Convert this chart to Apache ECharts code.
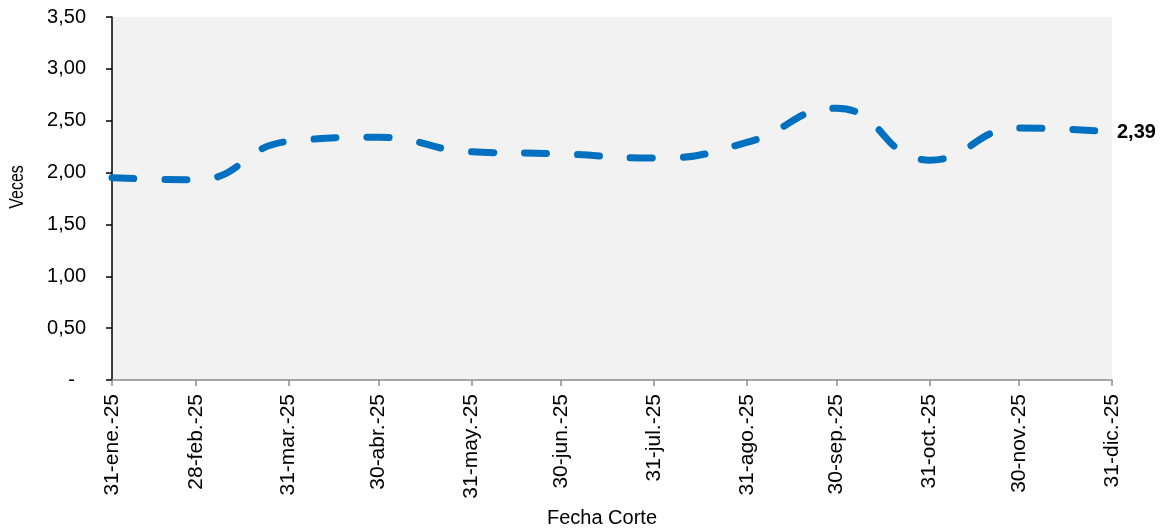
<!DOCTYPE html>
<html>
<head>
<meta charset="utf-8">
<script src="https://cdn.jsdelivr.net/npm/echarts@6/dist/echarts.min.js"></script>
<style>
  html, body { margin: 0; padding: 0; background: #ffffff; }
  #chart { width: 1162px; height: 531px; }
</style>
</head>
<body>
<div id="chart"></div>
<script>
// Cut-off dates (month ends of 2025) and their axis labels
const cutDates = [
  [2025, 0, 31], [2025, 1, 28], [2025, 2, 31], [2025, 3, 30],
  [2025, 4, 31], [2025, 5, 30], [2025, 6, 31], [2025, 7, 31],
  [2025, 8, 30], [2025, 9, 31], [2025, 10, 30], [2025, 11, 31]
];
const tickLabels = [
  '31-ene.-25', '28-feb.-25', '31-mar.-25', '30-abr.-25',
  '31-may.-25', '30-jun.-25', '31-jul.-25', '31-ago.-25',
  '30-sep.-25', '31-oct.-25', '30-nov.-25', '31-dic.-25'
];
// Ratio in "veces" at each cut-off date
const veces = [1.95, 1.93, 2.30, 2.34, 2.20, 2.18, 2.14, 2.29, 2.62, 2.12, 2.43, 2.39];

const FONT = 'Liberation Sans, Arial, sans-serif';
const DAY = 86400000;
// Position along the x axis: days elapsed since the first cut-off date
const days = cutDates.map(d =>
  Math.round((Date.UTC(d[0], d[1], d[2]) - Date.UTC(cutDates[0][0], cutDates[0][1], cutDates[0][2])) / DAY));
const fmtNum = v => v.toFixed(2).replace('.', ',');

const seriesData = days.map((t, i) => [t, veces[i]]);

const chart = echarts.init(document.getElementById('chart'), null, { renderer: 'canvas' });
chart.setOption({
  animation: false,
  backgroundColor: '#ffffff',
  grid: {
    left: 112, right: 50, top: 17, bottom: 151,
    show: true, backgroundColor: '#F2F2F2', borderWidth: 0
  },
  xAxis: {
    type: 'value',
    min: days[0],
    max: days[days.length - 1],
    axisLine: { show: true, lineStyle: { color: '#8C8C8C', width: 1.5 } },
    axisTick: {
      show: true, length: 6, inside: false,
      customValues: days,
      lineStyle: { color: '#8C8C8C', width: 1.5 }
    },
    axisLabel: {
      customValues: days,
      rotate: 90,
      margin: 14,
      color: '#000000',
      fontFamily: FONT,
      fontSize: 21,
      hideOverlap: false,
      showMinLabel: true,
      showMaxLabel: true,
      formatter: v => {
        const i = days.indexOf(v);
        return i >= 0 ? tickLabels[i] : '';
      }
    },
    splitLine: { show: false }
  },
  yAxis: {
    type: 'value',
    min: 0, max: 3.5, interval: 0.5,
    axisLine: { show: true, lineStyle: { color: '#000000', width: 1.5 } },
    axisTick: { show: true, length: 6, lineStyle: { color: '#000000', width: 1.5 } },
    axisLabel: {
      margin: 26,
      color: '#000000',
      fontFamily: FONT,
      fontSize: 20,
      formatter: v => (v === 0 ? '-  ' : fmtNum(v))
    },
    splitLine: { show: false }
  },
  graphic: [
    {
      type: 'text',
      x: 17, y: 187,
      rotation: Math.PI / 2,
      scaleX: 0.8,
      style: {
        text: 'Veces', fill: '#000000',
        font: '20px ' + FONT,
        align: 'center', verticalAlign: 'middle'
      }
    },
    {
      type: 'text',
      x: 602, y: 518,
      style: {
        text: 'Fecha Corte', fill: '#000000',
        font: '20px ' + FONT,
        align: 'center', verticalAlign: 'middle'
      }
    }
  ],
  series: [{
    type: 'line',
    data: seriesData,
    smooth: 0.5,
    showSymbol: false,
    symbol: 'none',
    lineStyle: {
      color: '#0070C0',
      width: 7,
      type: [22, 31],
      cap: 'round',
      join: 'round'
    },
    itemStyle: { color: '#0070C0' },
    endLabel: {
      show: true,
      distance: 5,
      formatter: p => fmtNum(p.value[1]),
      color: '#000000',
      fontFamily: FONT,
      fontSize: 20,
      fontWeight: 'bold'
    }
  }]
});
</script>
</body>
</html>
